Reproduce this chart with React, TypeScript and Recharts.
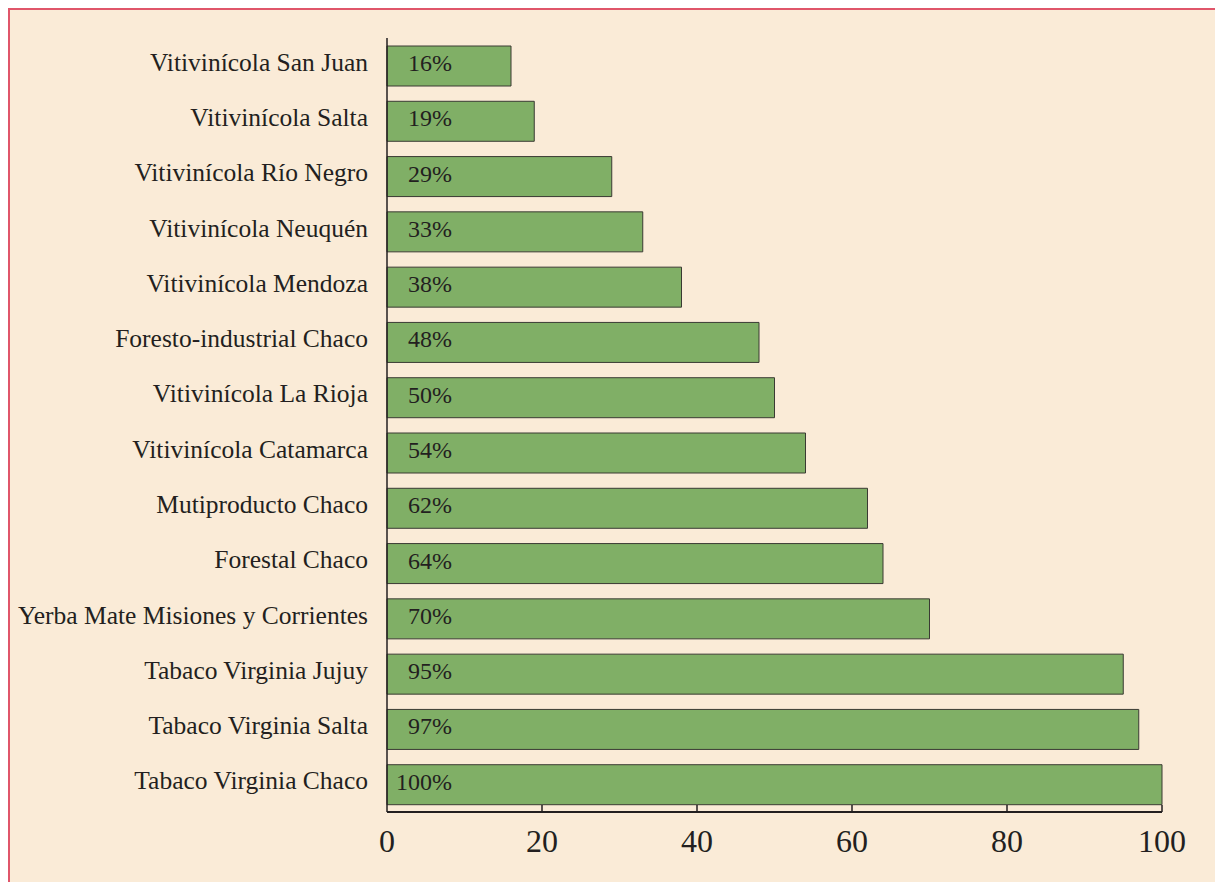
import React from 'react'
import { BarChart, Bar, XAxis, YAxis, LabelList } from 'recharts'

const categories = [
  'Vitivinícola San Juan',
  'Vitivinícola Salta',
  'Vitivinícola Río Negro',
  'Vitivinícola Neuquén',
  'Vitivinícola Mendoza',
  'Foresto-industrial Chaco',
  'Vitivinícola La Rioja',
  'Vitivinícola Catamarca',
  'Mutiproducto Chaco',
  'Forestal Chaco',
  'Yerba Mate Misiones y Corrientes',
  'Tabaco Virginia Jujuy',
  'Tabaco Virginia Salta',
  'Tabaco Virginia Chaco',
]
const values = [16, 19, 29, 33, 38, 48, 50, 54, 62, 64, 70, 95, 97, 100]
const xTicks = [0, 20, 40, 60, 80, 100]

const data = categories.map((name, i) => ({ name, value: values[i] }))

const FONT = '"Liberation Serif", "DejaVu Serif", serif'
const INK = '#231F20'

function CategoryTick(props: any) {
  const { x, y, payload } = props
  return (
    <text x={x - 19} y={y + 5} textAnchor="end" fontSize={25.5} fontFamily={FONT} fill={INK}>
      {payload.value}
    </text>
  )
}

function ValueTick(props: any) {
  const { x, y, payload } = props
  return (
    <g>
      {payload.value !== 0 && (
        <line x1={x} x2={x} y1={y - 7} y2={y} stroke={INK} strokeWidth={1.5} />
      )}
      <text x={x} y={y + 40} textAnchor="middle" fontSize={32} fontFamily={FONT} fill={INK}>
        {payload.value}
      </text>
    </g>
  )
}

function PctLabel(props: any) {
  const { x, y, height, value } = props
  return (
    <text x={x + 65} y={y + height / 2 + 5} textAnchor="end" fontSize={24} fontFamily={FONT} fill={INK}>
      {value}%
    </text>
  )
}

export default function App() {
  return (
    <div style={{
      position: 'absolute', left: 8, top: 8, width: 1205, height: 872,
      background: '#FAEBD7', borderTop: '2px solid #E0566A', borderLeft: '2px solid #E0566A',
    }}>
      <BarChart width={1205} height={872} data={data} layout="vertical"
        margin={{ top: 28, right: 53, bottom: 20, left: 0 }} barSize={40}>
        <XAxis type="number" domain={[0, 100]} ticks={xTicks} height={50}
          axisLine={{ stroke: INK, strokeWidth: 2 }} tickLine={false}
          tickSize={0} tickMargin={0} tick={<ValueTick />} interval={0} />
        <YAxis type="category" dataKey="name" width={377}
          axisLine={{ stroke: INK, strokeWidth: 1.5 }} tickLine={false}
          tickSize={0} tickMargin={0} tick={<CategoryTick />} interval={0} />
        <Bar dataKey="value" fill="#80AF66" stroke="#3A3A33" strokeWidth={1}
          isAnimationActive={false}>
          <LabelList dataKey="value" content={<PctLabel />} />
        </Bar>
      </BarChart>
    </div>
  )
}
